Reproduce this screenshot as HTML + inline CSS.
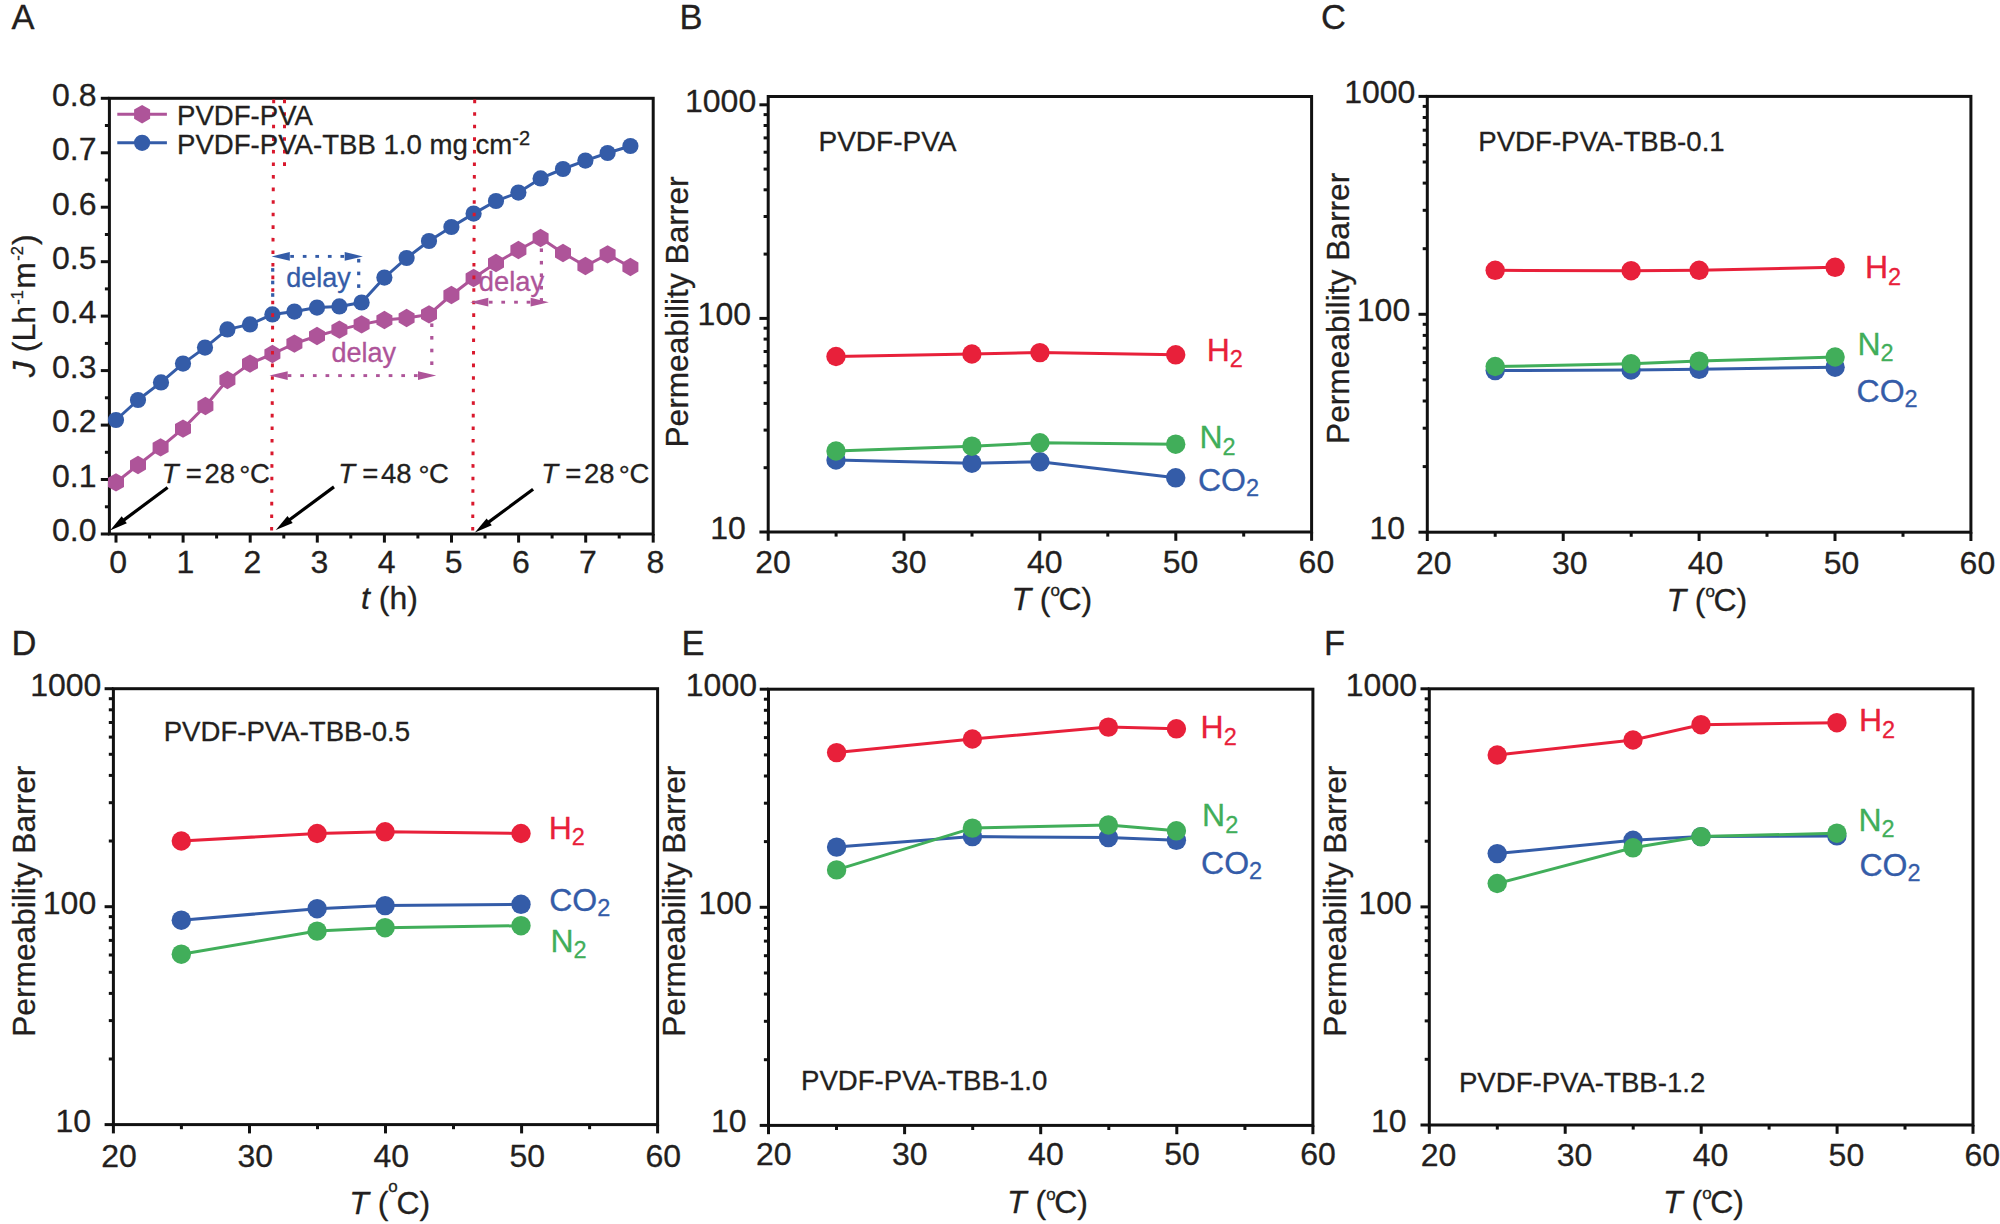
<!DOCTYPE html>
<html lang="en"><head><meta charset="utf-8"><title>Figure</title>
<style>
html,body{margin:0;padding:0;background:#fff;}
svg{display:block;font-family:"Liberation Sans", sans-serif;}
text{stroke-width:.3px;stroke-linejoin:round;}
text[fill="#231f20"]{stroke:#231f20;}
text[fill="#e8203a"]{stroke:#e8203a;}
text[fill="#41ae5a"]{stroke:#41ae5a;}
text[fill="#345ca8"]{stroke:#345ca8;}
text[fill="#ae5499"]{stroke:#ae5499;}
</style></head><body>
<svg width="2000" height="1224" viewBox="0 0 2000 1224">
<rect width="2000" height="1224" fill="#fff"/>
<text x="11.5" y="29.0" font-size="34.5" fill="#231f20" text-anchor="start" >A</text>
<rect x="109.4" y="98.3" width="543.8" height="435.7" fill="none" stroke="#111111" stroke-width="3.0"/>
<line x1="100.8" y1="534.0" x2="109.4" y2="534.0" stroke="#111111" stroke-width="3.0"/>
<text x="96.5" y="541.3" font-size="32" fill="#231f20" text-anchor="end" >0.0</text>
<line x1="104.9" y1="506.8" x2="109.4" y2="506.8" stroke="#111111" stroke-width="3.0"/>
<line x1="100.8" y1="479.5" x2="109.4" y2="479.5" stroke="#111111" stroke-width="3.0"/>
<text x="96.5" y="486.8" font-size="32" fill="#231f20" text-anchor="end" >0.1</text>
<line x1="104.9" y1="452.3" x2="109.4" y2="452.3" stroke="#111111" stroke-width="3.0"/>
<line x1="100.8" y1="425.1" x2="109.4" y2="425.1" stroke="#111111" stroke-width="3.0"/>
<text x="96.5" y="432.4" font-size="32" fill="#231f20" text-anchor="end" >0.2</text>
<line x1="104.9" y1="397.8" x2="109.4" y2="397.8" stroke="#111111" stroke-width="3.0"/>
<line x1="100.8" y1="370.6" x2="109.4" y2="370.6" stroke="#111111" stroke-width="3.0"/>
<text x="96.5" y="377.9" font-size="32" fill="#231f20" text-anchor="end" >0.3</text>
<line x1="104.9" y1="343.4" x2="109.4" y2="343.4" stroke="#111111" stroke-width="3.0"/>
<line x1="100.8" y1="316.1" x2="109.4" y2="316.1" stroke="#111111" stroke-width="3.0"/>
<text x="96.5" y="323.4" font-size="32" fill="#231f20" text-anchor="end" >0.4</text>
<line x1="104.9" y1="288.9" x2="109.4" y2="288.9" stroke="#111111" stroke-width="3.0"/>
<line x1="100.8" y1="261.7" x2="109.4" y2="261.7" stroke="#111111" stroke-width="3.0"/>
<text x="96.5" y="269.0" font-size="32" fill="#231f20" text-anchor="end" >0.5</text>
<line x1="104.9" y1="234.5" x2="109.4" y2="234.5" stroke="#111111" stroke-width="3.0"/>
<line x1="100.8" y1="207.2" x2="109.4" y2="207.2" stroke="#111111" stroke-width="3.0"/>
<text x="96.5" y="214.5" font-size="32" fill="#231f20" text-anchor="end" >0.6</text>
<line x1="104.9" y1="180.0" x2="109.4" y2="180.0" stroke="#111111" stroke-width="3.0"/>
<line x1="100.8" y1="152.8" x2="109.4" y2="152.8" stroke="#111111" stroke-width="3.0"/>
<text x="96.5" y="160.1" font-size="32" fill="#231f20" text-anchor="end" >0.7</text>
<line x1="104.9" y1="125.5" x2="109.4" y2="125.5" stroke="#111111" stroke-width="3.0"/>
<line x1="100.8" y1="98.3" x2="109.4" y2="98.3" stroke="#111111" stroke-width="3.0"/>
<text x="96.5" y="105.6" font-size="32" fill="#231f20" text-anchor="end" >0.8</text>
<line x1="116.0" y1="534.0" x2="116.0" y2="542.6" stroke="#111111" stroke-width="3.0"/>
<text x="118.2" y="572.5" font-size="32" fill="#231f20" text-anchor="middle" >0</text>
<line x1="149.6" y1="534.0" x2="149.6" y2="538.5" stroke="#111111" stroke-width="3.0"/>
<line x1="183.1" y1="534.0" x2="183.1" y2="542.6" stroke="#111111" stroke-width="3.0"/>
<text x="185.3" y="572.5" font-size="32" fill="#231f20" text-anchor="middle" >1</text>
<line x1="216.6" y1="534.0" x2="216.6" y2="538.5" stroke="#111111" stroke-width="3.0"/>
<line x1="250.2" y1="534.0" x2="250.2" y2="542.6" stroke="#111111" stroke-width="3.0"/>
<text x="252.4" y="572.5" font-size="32" fill="#231f20" text-anchor="middle" >2</text>
<line x1="283.8" y1="534.0" x2="283.8" y2="538.5" stroke="#111111" stroke-width="3.0"/>
<line x1="317.3" y1="534.0" x2="317.3" y2="542.6" stroke="#111111" stroke-width="3.0"/>
<text x="319.5" y="572.5" font-size="32" fill="#231f20" text-anchor="middle" >3</text>
<line x1="350.8" y1="534.0" x2="350.8" y2="538.5" stroke="#111111" stroke-width="3.0"/>
<line x1="384.4" y1="534.0" x2="384.4" y2="542.6" stroke="#111111" stroke-width="3.0"/>
<text x="386.6" y="572.5" font-size="32" fill="#231f20" text-anchor="middle" >4</text>
<line x1="417.9" y1="534.0" x2="417.9" y2="538.5" stroke="#111111" stroke-width="3.0"/>
<line x1="451.5" y1="534.0" x2="451.5" y2="542.6" stroke="#111111" stroke-width="3.0"/>
<text x="453.7" y="572.5" font-size="32" fill="#231f20" text-anchor="middle" >5</text>
<line x1="485.0" y1="534.0" x2="485.0" y2="538.5" stroke="#111111" stroke-width="3.0"/>
<line x1="518.6" y1="534.0" x2="518.6" y2="542.6" stroke="#111111" stroke-width="3.0"/>
<text x="520.8" y="572.5" font-size="32" fill="#231f20" text-anchor="middle" >6</text>
<line x1="552.1" y1="534.0" x2="552.1" y2="538.5" stroke="#111111" stroke-width="3.0"/>
<line x1="585.7" y1="534.0" x2="585.7" y2="542.6" stroke="#111111" stroke-width="3.0"/>
<text x="587.9" y="572.5" font-size="32" fill="#231f20" text-anchor="middle" >7</text>
<line x1="619.2" y1="534.0" x2="619.2" y2="538.5" stroke="#111111" stroke-width="3.0"/>
<line x1="653.2" y1="534.0" x2="653.2" y2="542.6" stroke="#111111" stroke-width="3.0"/>
<text x="655.4" y="572.5" font-size="32" fill="#231f20" text-anchor="middle" >8</text>
<rect x="357.10" y="258.90" width="3.2" height="3.6" fill="#345ca8"/>
<rect x="357.10" y="271.60" width="3.2" height="3.6" fill="#345ca8"/>
<rect x="357.10" y="284.30" width="3.2" height="3.6" fill="#345ca8"/>
<rect x="430.20" y="323.40" width="3.2" height="3.6" fill="#ae5499"/>
<rect x="430.20" y="336.00" width="3.2" height="3.6" fill="#ae5499"/>
<rect x="430.20" y="348.70" width="3.2" height="3.6" fill="#ae5499"/>
<rect x="430.20" y="361.40" width="3.2" height="3.6" fill="#ae5499"/>
<rect x="539.80" y="248.40" width="3.2" height="3.6" fill="#ae5499"/>
<rect x="539.80" y="260.90" width="3.2" height="3.6" fill="#ae5499"/>
<rect x="539.80" y="273.40" width="3.2" height="3.6" fill="#ae5499"/>
<rect x="539.80" y="285.90" width="3.2" height="3.6" fill="#ae5499"/>
<rect x="539.80" y="298.10" width="3.2" height="3.6" fill="#ae5499"/>
<polyline points="116.0,482.4 138.0,465.0 160.6,447.4 183.0,428.6 205.4,406.0 227.4,380.0 250.0,363.6 272.4,354.0 294.4,343.6 317.0,336.0 339.4,329.6 361.6,324.4 384.4,320.0 406.6,318.0 429.0,314.4 451.4,295.0 473.6,278.0 496.0,263.0 518.4,250.0 540.6,238.0 563.0,253.0 585.4,266.0 607.6,254.4 630.4,267.0" fill="none" stroke="#ae5499" stroke-width="3.0" stroke-linejoin="round"/>
<polygon points="116.0,473.2 124.0,477.8 124.0,487.0 116.0,491.6 108.0,487.0 108.0,477.8" fill="#ae5499"/>
<polygon points="138.0,455.8 146.0,460.4 146.0,469.6 138.0,474.2 130.0,469.6 130.0,460.4" fill="#ae5499"/>
<polygon points="160.6,438.2 168.6,442.8 168.6,452.0 160.6,456.6 152.6,452.0 152.6,442.8" fill="#ae5499"/>
<polygon points="183.0,419.4 191.0,424.0 191.0,433.2 183.0,437.8 175.0,433.2 175.0,424.0" fill="#ae5499"/>
<polygon points="205.4,396.8 213.4,401.4 213.4,410.6 205.4,415.2 197.4,410.6 197.4,401.4" fill="#ae5499"/>
<polygon points="227.4,370.8 235.4,375.4 235.4,384.6 227.4,389.2 219.4,384.6 219.4,375.4" fill="#ae5499"/>
<polygon points="250.0,354.4 258.0,359.0 258.0,368.2 250.0,372.8 242.0,368.2 242.0,359.0" fill="#ae5499"/>
<polygon points="272.4,344.8 280.4,349.4 280.4,358.6 272.4,363.2 264.4,358.6 264.4,349.4" fill="#ae5499"/>
<polygon points="294.4,334.4 302.4,339.0 302.4,348.2 294.4,352.8 286.4,348.2 286.4,339.0" fill="#ae5499"/>
<polygon points="317.0,326.8 325.0,331.4 325.0,340.6 317.0,345.2 309.0,340.6 309.0,331.4" fill="#ae5499"/>
<polygon points="339.4,320.4 347.4,325.0 347.4,334.2 339.4,338.8 331.4,334.2 331.4,325.0" fill="#ae5499"/>
<polygon points="361.6,315.2 369.6,319.8 369.6,329.0 361.6,333.6 353.6,329.0 353.6,319.8" fill="#ae5499"/>
<polygon points="384.4,310.8 392.4,315.4 392.4,324.6 384.4,329.2 376.4,324.6 376.4,315.4" fill="#ae5499"/>
<polygon points="406.6,308.8 414.6,313.4 414.6,322.6 406.6,327.2 398.6,322.6 398.6,313.4" fill="#ae5499"/>
<polygon points="429.0,305.2 437.0,309.8 437.0,319.0 429.0,323.6 421.0,319.0 421.0,309.8" fill="#ae5499"/>
<polygon points="451.4,285.8 459.4,290.4 459.4,299.6 451.4,304.2 443.4,299.6 443.4,290.4" fill="#ae5499"/>
<polygon points="473.6,268.8 481.6,273.4 481.6,282.6 473.6,287.2 465.6,282.6 465.6,273.4" fill="#ae5499"/>
<polygon points="496.0,253.8 504.0,258.4 504.0,267.6 496.0,272.2 488.0,267.6 488.0,258.4" fill="#ae5499"/>
<polygon points="518.4,240.8 526.4,245.4 526.4,254.6 518.4,259.2 510.4,254.6 510.4,245.4" fill="#ae5499"/>
<polygon points="540.6,228.8 548.6,233.4 548.6,242.6 540.6,247.2 532.6,242.6 532.6,233.4" fill="#ae5499"/>
<polygon points="563.0,243.8 571.0,248.4 571.0,257.6 563.0,262.2 555.0,257.6 555.0,248.4" fill="#ae5499"/>
<polygon points="585.4,256.8 593.4,261.4 593.4,270.6 585.4,275.2 577.4,270.6 577.4,261.4" fill="#ae5499"/>
<polygon points="607.6,245.2 615.6,249.8 615.6,259.0 607.6,263.6 599.6,259.0 599.6,249.8" fill="#ae5499"/>
<polygon points="630.4,257.8 638.4,262.4 638.4,271.6 630.4,276.2 622.4,271.6 622.4,262.4" fill="#ae5499"/>
<polyline points="116.0,420.0 138.0,400.0 161.0,382.4 183.0,363.6 205.0,347.6 227.4,329.4 250.0,324.4 272.4,314.4 294.4,311.6 317.0,307.6 339.4,306.4 361.6,302.5 384.4,277.6 406.6,258.0 429.0,241.0 451.4,227.0 473.6,213.6 496.0,201.0 518.4,192.6 540.6,178.4 563.0,169.0 585.4,160.6 607.6,153.0 630.4,146.0" fill="none" stroke="#345ca8" stroke-width="3.0" stroke-linejoin="round"/>
<circle cx="116.0" cy="420.0" r="8.1" fill="#345ca8"/>
<circle cx="138.0" cy="400.0" r="8.1" fill="#345ca8"/>
<circle cx="161.0" cy="382.4" r="8.1" fill="#345ca8"/>
<circle cx="183.0" cy="363.6" r="8.1" fill="#345ca8"/>
<circle cx="205.0" cy="347.6" r="8.1" fill="#345ca8"/>
<circle cx="227.4" cy="329.4" r="8.1" fill="#345ca8"/>
<circle cx="250.0" cy="324.4" r="8.1" fill="#345ca8"/>
<circle cx="272.4" cy="314.4" r="8.1" fill="#345ca8"/>
<circle cx="294.4" cy="311.6" r="8.1" fill="#345ca8"/>
<circle cx="317.0" cy="307.6" r="8.1" fill="#345ca8"/>
<circle cx="339.4" cy="306.4" r="8.1" fill="#345ca8"/>
<circle cx="361.6" cy="302.5" r="8.1" fill="#345ca8"/>
<circle cx="384.4" cy="277.6" r="8.1" fill="#345ca8"/>
<circle cx="406.6" cy="258.0" r="8.1" fill="#345ca8"/>
<circle cx="429.0" cy="241.0" r="8.1" fill="#345ca8"/>
<circle cx="451.4" cy="227.0" r="8.1" fill="#345ca8"/>
<circle cx="473.6" cy="213.6" r="8.1" fill="#345ca8"/>
<circle cx="496.0" cy="201.0" r="8.1" fill="#345ca8"/>
<circle cx="518.4" cy="192.6" r="8.1" fill="#345ca8"/>
<circle cx="540.6" cy="178.4" r="8.1" fill="#345ca8"/>
<circle cx="563.0" cy="169.0" r="8.1" fill="#345ca8"/>
<circle cx="585.4" cy="160.6" r="8.1" fill="#345ca8"/>
<circle cx="607.6" cy="153.0" r="8.1" fill="#345ca8"/>
<circle cx="630.4" cy="146.0" r="8.1" fill="#345ca8"/>
<line x1="273.7" y1="99.6" x2="271.6" y2="533.0" stroke="#d9182d" stroke-width="3.0" stroke-dasharray="3.6 8.97" stroke-dashoffset="0"/>
<line x1="474.7" y1="99.6" x2="472.7" y2="533.0" stroke="#d9182d" stroke-width="3.0" stroke-dasharray="3.6 8.97" stroke-dashoffset="0"/>
<line x1="284.5" y1="99.6" x2="284.5" y2="171.0" stroke="#d9182d" stroke-width="3.0" stroke-dasharray="3.6 8.95" stroke-dashoffset="0"/>
<rect x="271.10" y="268.10" width="3.2" height="3.6" fill="#345ca8"/>
<rect x="271.10" y="280.70" width="3.2" height="3.6" fill="#345ca8"/>
<rect x="271.10" y="293.20" width="3.2" height="3.6" fill="#345ca8"/>
<polygon points="271.6,256.4 289.8,251.9 289.8,260.8" fill="#345ca8"/>
<polygon points="362.9,256.4 344.7,260.8 344.7,251.9" fill="#345ca8"/>
<rect x="290.25" y="254.95" width="3.7" height="2.9" fill="#345ca8"/>
<rect x="302.80" y="254.95" width="3.7" height="2.9" fill="#345ca8"/>
<rect x="315.35" y="254.95" width="3.7" height="2.9" fill="#345ca8"/>
<rect x="327.90" y="254.95" width="3.7" height="2.9" fill="#345ca8"/>
<rect x="340.45" y="254.95" width="3.7" height="2.9" fill="#345ca8"/>
<text x="286.2" y="286.5" font-size="27" fill="#345ca8" text-anchor="start" >delay</text>
<polygon points="269.5,375.6 287.7,371.2 287.7,380.1" fill="#ae5499"/>
<polygon points="436.2,375.6 418.0,380.1 418.0,371.2" fill="#ae5499"/>
<rect x="287.65" y="374.15" width="3.7" height="2.9" fill="#ae5499"/>
<rect x="300.28" y="374.15" width="3.7" height="2.9" fill="#ae5499"/>
<rect x="312.91" y="374.15" width="3.7" height="2.9" fill="#ae5499"/>
<rect x="325.54" y="374.15" width="3.7" height="2.9" fill="#ae5499"/>
<rect x="338.17" y="374.15" width="3.7" height="2.9" fill="#ae5499"/>
<rect x="350.80" y="374.15" width="3.7" height="2.9" fill="#ae5499"/>
<rect x="363.43" y="374.15" width="3.7" height="2.9" fill="#ae5499"/>
<rect x="376.06" y="374.15" width="3.7" height="2.9" fill="#ae5499"/>
<rect x="388.69" y="374.15" width="3.7" height="2.9" fill="#ae5499"/>
<rect x="401.32" y="374.15" width="3.7" height="2.9" fill="#ae5499"/>
<rect x="413.95" y="374.15" width="3.7" height="2.9" fill="#ae5499"/>
<text x="331.4" y="362.3" font-size="27" fill="#ae5499" text-anchor="start" >delay</text>
<polygon points="470.1,302.2 488.3,297.8 488.3,306.6" fill="#ae5499"/>
<polygon points="548.8,302.2 530.6,306.6 530.6,297.8" fill="#ae5499"/>
<rect x="488.85" y="300.75" width="3.7" height="2.9" fill="#ae5499"/>
<rect x="501.35" y="300.75" width="3.7" height="2.9" fill="#ae5499"/>
<rect x="514.15" y="300.75" width="3.7" height="2.9" fill="#ae5499"/>
<rect x="526.65" y="300.75" width="3.7" height="2.9" fill="#ae5499"/>
<text x="478.8" y="291.4" font-size="27.3" fill="#ae5499" text-anchor="start" >delay</text>
<text y="482.8" font-size="27.5" fill="#231f20"><tspan x="161.8" font-style="italic">T</tspan><tspan x="185.7">=</tspan><tspan x="204.4">28</tspan><tspan x="239.3" dy="2">°</tspan><tspan x="249.9" dy="-2">C</tspan></text>
<line x1="167.6" y1="487.5" x2="118.0" y2="524.4" stroke="#000" stroke-width="3.2"/>
<polygon points="110.0,530.4 121.7,516.3 126.8,523.2" fill="#000"/>
<text y="482.8" font-size="27.5" fill="#231f20"><tspan x="338.3" font-style="italic">T</tspan><tspan x="362.2">=</tspan><tspan x="380.9">48</tspan><tspan x="418.5" dy="2">°</tspan><tspan x="429.09999999999997" dy="-2">C</tspan></text>
<line x1="334.0" y1="486.9" x2="283.8" y2="524.0" stroke="#000" stroke-width="3.2"/>
<polygon points="275.8,530.0 287.5,516.0 292.7,522.9" fill="#000"/>
<text y="482.8" font-size="27.5" fill="#231f20"><tspan x="541.3" font-style="italic">T</tspan><tspan x="565.2">=</tspan><tspan x="583.9">28</tspan><tspan x="618.8" dy="2">°</tspan><tspan x="629.4" dy="-2">C</tspan></text>
<line x1="533.1" y1="489.3" x2="482.9" y2="526.4" stroke="#000" stroke-width="3.2"/>
<polygon points="474.9,532.4 486.6,518.4 491.8,525.3" fill="#000"/>
<line x1="117.3" y1="114.2" x2="166.9" y2="114.2" stroke="#ae5499" stroke-width="3.0"/>
<polygon points="142.1,105.0 150.1,109.6 150.1,118.8 142.1,123.4 134.1,118.8 134.1,109.6" fill="#ae5499"/>
<line x1="117.3" y1="142.8" x2="166.9" y2="142.8" stroke="#345ca8" stroke-width="3.0"/>
<circle cx="142.1" cy="142.8" r="8.1" fill="#345ca8"/>
<text x="177.0" y="125.0" font-size="27.6" fill="#231f20" text-anchor="start" >PVDF-PVA</text>
<text x="177.0" y="153.5" font-size="27.6" fill="#231f20" text-anchor="start" >PVDF-PVA-TBB 1.0 mg cm<tspan dy="-8.5" font-size="20">-2</tspan></text>
<text x="389.5" y="609" font-size="32" fill="#231f20" text-anchor="middle"><tspan font-style="italic">t</tspan> (h)</text>
<text transform="translate(34.6,305.7) rotate(-90)" font-size="32" fill="#231f20" text-anchor="middle"><tspan font-style="italic">J</tspan> (Lh<tspan dy="-11.5" dx="1.2" font-size="16.5">-1</tspan><tspan dy="11.5" dx="1.5">m</tspan><tspan dy="-11.5" dx="1.2" font-size="16.5">-2</tspan><tspan dy="11.5" dx="1.2">)</tspan></text>
<text x="679.5" y="29.0" font-size="34.5" fill="#231f20" text-anchor="start" >B</text>
<polyline points="836.0,460.0 971.9,463.2 1039.9,461.8 1175.7,477.8" fill="none" stroke="#345ca8" stroke-width="3.0" stroke-linejoin="round"/>
<circle cx="836.0" cy="460.0" r="9.7" fill="#345ca8"/>
<circle cx="971.9" cy="463.2" r="9.7" fill="#345ca8"/>
<circle cx="1039.9" cy="461.8" r="9.7" fill="#345ca8"/>
<circle cx="1175.7" cy="477.8" r="9.7" fill="#345ca8"/>
<polyline points="836.0,451.0 971.9,446.2 1039.9,442.8 1175.7,444.2" fill="none" stroke="#41ae5a" stroke-width="3.0" stroke-linejoin="round"/>
<circle cx="836.0" cy="451.0" r="9.7" fill="#41ae5a"/>
<circle cx="971.9" cy="446.2" r="9.7" fill="#41ae5a"/>
<circle cx="1039.9" cy="442.8" r="9.7" fill="#41ae5a"/>
<circle cx="1175.7" cy="444.2" r="9.7" fill="#41ae5a"/>
<polyline points="836.0,356.5 971.9,354.0 1039.9,352.6 1175.7,354.8" fill="none" stroke="#e8203a" stroke-width="3.0" stroke-linejoin="round"/>
<circle cx="836.0" cy="356.5" r="9.7" fill="#e8203a"/>
<circle cx="971.9" cy="354.0" r="9.7" fill="#e8203a"/>
<circle cx="1039.9" cy="352.6" r="9.7" fill="#e8203a"/>
<circle cx="1175.7" cy="354.8" r="9.7" fill="#e8203a"/>
<rect x="768.2" y="96.5" width="543.4" height="435.5" fill="none" stroke="#111111" stroke-width="3.0"/>
<line x1="763.6" y1="254.1" x2="768.2" y2="254.1" stroke="#111111" stroke-width="3.0"/>
<line x1="763.6" y1="216.5" x2="768.2" y2="216.5" stroke="#111111" stroke-width="3.0"/>
<line x1="763.6" y1="189.8" x2="768.2" y2="189.8" stroke="#111111" stroke-width="3.0"/>
<line x1="763.6" y1="169.1" x2="768.2" y2="169.1" stroke="#111111" stroke-width="3.0"/>
<line x1="763.6" y1="152.2" x2="768.2" y2="152.2" stroke="#111111" stroke-width="3.0"/>
<line x1="763.6" y1="137.9" x2="768.2" y2="137.9" stroke="#111111" stroke-width="3.0"/>
<line x1="763.6" y1="125.5" x2="768.2" y2="125.5" stroke="#111111" stroke-width="3.0"/>
<line x1="763.6" y1="114.6" x2="768.2" y2="114.6" stroke="#111111" stroke-width="3.0"/>
<line x1="763.6" y1="467.7" x2="768.2" y2="467.7" stroke="#111111" stroke-width="3.0"/>
<line x1="763.6" y1="430.1" x2="768.2" y2="430.1" stroke="#111111" stroke-width="3.0"/>
<line x1="763.6" y1="403.4" x2="768.2" y2="403.4" stroke="#111111" stroke-width="3.0"/>
<line x1="763.6" y1="382.7" x2="768.2" y2="382.7" stroke="#111111" stroke-width="3.0"/>
<line x1="763.6" y1="365.8" x2="768.2" y2="365.8" stroke="#111111" stroke-width="3.0"/>
<line x1="763.6" y1="351.5" x2="768.2" y2="351.5" stroke="#111111" stroke-width="3.0"/>
<line x1="763.6" y1="339.1" x2="768.2" y2="339.1" stroke="#111111" stroke-width="3.0"/>
<line x1="763.6" y1="328.2" x2="768.2" y2="328.2" stroke="#111111" stroke-width="3.0"/>
<line x1="759.4" y1="104.8" x2="768.2" y2="104.8" stroke="#111111" stroke-width="3.0"/>
<text x="756.2" y="111.8" font-size="32" fill="#231f20" text-anchor="end" >1000</text>
<line x1="759.4" y1="318.4" x2="768.2" y2="318.4" stroke="#111111" stroke-width="3.0"/>
<text x="751.0" y="325.4" font-size="32" fill="#231f20" text-anchor="end" >100</text>
<line x1="759.4" y1="532.0" x2="768.2" y2="532.0" stroke="#111111" stroke-width="3.0"/>
<text x="745.8" y="539.0" font-size="32" fill="#231f20" text-anchor="end" >10</text>
<line x1="768.2" y1="532.0" x2="768.2" y2="540.8" stroke="#111111" stroke-width="3.0"/>
<text x="773.0" y="572.9" font-size="32" fill="#231f20" text-anchor="middle" >20</text>
<line x1="836.1" y1="532.0" x2="836.1" y2="536.6" stroke="#111111" stroke-width="3.0"/>
<line x1="904.0" y1="532.0" x2="904.0" y2="540.8" stroke="#111111" stroke-width="3.0"/>
<text x="908.8" y="572.9" font-size="32" fill="#231f20" text-anchor="middle" >30</text>
<line x1="972.0" y1="532.0" x2="972.0" y2="536.6" stroke="#111111" stroke-width="3.0"/>
<line x1="1039.9" y1="532.0" x2="1039.9" y2="540.8" stroke="#111111" stroke-width="3.0"/>
<text x="1044.7" y="572.9" font-size="32" fill="#231f20" text-anchor="middle" >40</text>
<line x1="1107.8" y1="532.0" x2="1107.8" y2="536.6" stroke="#111111" stroke-width="3.0"/>
<line x1="1175.8" y1="532.0" x2="1175.8" y2="540.8" stroke="#111111" stroke-width="3.0"/>
<text x="1180.5" y="572.9" font-size="32" fill="#231f20" text-anchor="middle" >50</text>
<line x1="1243.7" y1="532.0" x2="1243.7" y2="536.6" stroke="#111111" stroke-width="3.0"/>
<line x1="1311.6" y1="532.0" x2="1311.6" y2="540.8" stroke="#111111" stroke-width="3.0"/>
<text x="1316.4" y="572.9" font-size="32" fill="#231f20" text-anchor="middle" >60</text>
<text x="1206.7" y="360.7" font-size="32" fill="#e8203a" text-anchor="start" >H<tspan dy="6.6" font-size="23.5">2</tspan></text>
<text x="1199.4" y="448.4" font-size="32" fill="#41ae5a" text-anchor="start" >N<tspan dy="6.3" font-size="23.5">2</tspan></text>
<text x="1197.9" y="491.4" font-size="32" fill="#345ca8" text-anchor="start" >CO<tspan dy="4.6" font-size="23.5">2</tspan></text>
<text x="818.5" y="151.3" font-size="28" fill="#231f20" text-anchor="start" >PVDF-PVA</text>
<text x="1051.8" y="610" font-size="32" fill="#231f20" text-anchor="middle"><tspan font-style="italic">T</tspan> (<tspan font-size="17" dy="-13.6" dx="0">o</tspan><tspan dy="13.6" dx="-1.5">C)</tspan></text>
<text transform="translate(687.5,312) rotate(-90)" font-size="31.7" fill="#231f20" text-anchor="middle">Permeability Barrer</text>
<text x="1321.0" y="29.0" font-size="34.5" fill="#231f20" text-anchor="start" >C</text>
<polyline points="1495.2,370.6 1631.1,370.0 1699.1,369.3 1835.1,367.2" fill="none" stroke="#345ca8" stroke-width="3.0" stroke-linejoin="round"/>
<circle cx="1495.2" cy="370.6" r="9.7" fill="#345ca8"/>
<circle cx="1631.1" cy="370.0" r="9.7" fill="#345ca8"/>
<circle cx="1699.1" cy="369.3" r="9.7" fill="#345ca8"/>
<circle cx="1835.1" cy="367.2" r="9.7" fill="#345ca8"/>
<polyline points="1495.2,366.5 1631.1,363.8 1699.1,361.1 1835.1,357.0" fill="none" stroke="#41ae5a" stroke-width="3.0" stroke-linejoin="round"/>
<circle cx="1495.2" cy="366.5" r="9.7" fill="#41ae5a"/>
<circle cx="1631.1" cy="363.8" r="9.7" fill="#41ae5a"/>
<circle cx="1699.1" cy="361.1" r="9.7" fill="#41ae5a"/>
<circle cx="1835.1" cy="357.0" r="9.7" fill="#41ae5a"/>
<polyline points="1495.2,270.3 1631.1,270.7 1699.1,270.3 1835.1,267.3" fill="none" stroke="#e8203a" stroke-width="3.0" stroke-linejoin="round"/>
<circle cx="1495.2" cy="270.3" r="9.7" fill="#e8203a"/>
<circle cx="1631.1" cy="270.7" r="9.7" fill="#e8203a"/>
<circle cx="1699.1" cy="270.3" r="9.7" fill="#e8203a"/>
<circle cx="1835.1" cy="267.3" r="9.7" fill="#e8203a"/>
<rect x="1427.3" y="96.4" width="543.6" height="435.8" fill="none" stroke="#111111" stroke-width="3.0"/>
<line x1="1422.7" y1="248.7" x2="1427.3" y2="248.7" stroke="#111111" stroke-width="3.0"/>
<line x1="1422.7" y1="210.3" x2="1427.3" y2="210.3" stroke="#111111" stroke-width="3.0"/>
<line x1="1422.7" y1="183.1" x2="1427.3" y2="183.1" stroke="#111111" stroke-width="3.0"/>
<line x1="1422.7" y1="162.0" x2="1427.3" y2="162.0" stroke="#111111" stroke-width="3.0"/>
<line x1="1422.7" y1="144.7" x2="1427.3" y2="144.7" stroke="#111111" stroke-width="3.0"/>
<line x1="1422.7" y1="130.2" x2="1427.3" y2="130.2" stroke="#111111" stroke-width="3.0"/>
<line x1="1422.7" y1="117.5" x2="1427.3" y2="117.5" stroke="#111111" stroke-width="3.0"/>
<line x1="1422.7" y1="106.4" x2="1427.3" y2="106.4" stroke="#111111" stroke-width="3.0"/>
<line x1="1422.7" y1="466.6" x2="1427.3" y2="466.6" stroke="#111111" stroke-width="3.0"/>
<line x1="1422.7" y1="428.2" x2="1427.3" y2="428.2" stroke="#111111" stroke-width="3.0"/>
<line x1="1422.7" y1="401.0" x2="1427.3" y2="401.0" stroke="#111111" stroke-width="3.0"/>
<line x1="1422.7" y1="379.9" x2="1427.3" y2="379.9" stroke="#111111" stroke-width="3.0"/>
<line x1="1422.7" y1="362.6" x2="1427.3" y2="362.6" stroke="#111111" stroke-width="3.0"/>
<line x1="1422.7" y1="348.1" x2="1427.3" y2="348.1" stroke="#111111" stroke-width="3.0"/>
<line x1="1422.7" y1="335.4" x2="1427.3" y2="335.4" stroke="#111111" stroke-width="3.0"/>
<line x1="1422.7" y1="324.3" x2="1427.3" y2="324.3" stroke="#111111" stroke-width="3.0"/>
<line x1="1418.5" y1="96.4" x2="1427.3" y2="96.4" stroke="#111111" stroke-width="3.0"/>
<text x="1415.4" y="103.4" font-size="32" fill="#231f20" text-anchor="end" >1000</text>
<line x1="1418.5" y1="314.3" x2="1427.3" y2="314.3" stroke="#111111" stroke-width="3.0"/>
<text x="1410.2" y="321.3" font-size="32" fill="#231f20" text-anchor="end" >100</text>
<line x1="1418.5" y1="532.2" x2="1427.3" y2="532.2" stroke="#111111" stroke-width="3.0"/>
<text x="1405.0" y="539.2" font-size="32" fill="#231f20" text-anchor="end" >10</text>
<line x1="1427.3" y1="532.2" x2="1427.3" y2="541.0" stroke="#111111" stroke-width="3.0"/>
<text x="1433.8" y="573.9" font-size="32" fill="#231f20" text-anchor="middle" >20</text>
<line x1="1495.2" y1="532.2" x2="1495.2" y2="536.8" stroke="#111111" stroke-width="3.0"/>
<line x1="1563.2" y1="532.2" x2="1563.2" y2="541.0" stroke="#111111" stroke-width="3.0"/>
<text x="1569.7" y="573.9" font-size="32" fill="#231f20" text-anchor="middle" >30</text>
<line x1="1631.2" y1="532.2" x2="1631.2" y2="536.8" stroke="#111111" stroke-width="3.0"/>
<line x1="1699.1" y1="532.2" x2="1699.1" y2="541.0" stroke="#111111" stroke-width="3.0"/>
<text x="1705.6" y="573.9" font-size="32" fill="#231f20" text-anchor="middle" >40</text>
<line x1="1767.0" y1="532.2" x2="1767.0" y2="536.8" stroke="#111111" stroke-width="3.0"/>
<line x1="1835.0" y1="532.2" x2="1835.0" y2="541.0" stroke="#111111" stroke-width="3.0"/>
<text x="1841.5" y="573.9" font-size="32" fill="#231f20" text-anchor="middle" >50</text>
<line x1="1903.0" y1="532.2" x2="1903.0" y2="536.8" stroke="#111111" stroke-width="3.0"/>
<line x1="1970.9" y1="532.2" x2="1970.9" y2="541.0" stroke="#111111" stroke-width="3.0"/>
<text x="1977.4" y="573.9" font-size="32" fill="#231f20" text-anchor="middle" >60</text>
<text x="1864.9" y="277.9" font-size="32" fill="#e8203a" text-anchor="start" >H<tspan dy="6.6" font-size="23.5">2</tspan></text>
<text x="1857.5" y="354.7" font-size="32" fill="#41ae5a" text-anchor="start" >N<tspan dy="6.3" font-size="23.5">2</tspan></text>
<text x="1856.6" y="402.2" font-size="32" fill="#345ca8" text-anchor="start" >CO<tspan dy="4.6" font-size="23.5">2</tspan></text>
<text x="1478.3" y="150.6" font-size="27.6" fill="#231f20" text-anchor="start" >PVDF-PVA-TBB-0.1</text>
<text x="1706.8" y="611" font-size="32" fill="#231f20" text-anchor="middle"><tspan font-style="italic">T</tspan> (<tspan font-size="17" dy="-13.6" dx="0">o</tspan><tspan dy="13.6" dx="-1.5">C)</tspan></text>
<text transform="translate(1349.0,308.4) rotate(-90)" font-size="31.7" fill="#231f20" text-anchor="middle">Permeability Barrer</text>
<text x="11.6" y="655.2" font-size="34.5" fill="#231f20" text-anchor="start" >D</text>
<polyline points="181.3,954.2 317.1,931.1 385.1,927.7 521.0,925.7" fill="none" stroke="#41ae5a" stroke-width="3.0" stroke-linejoin="round"/>
<circle cx="181.3" cy="954.2" r="9.7" fill="#41ae5a"/>
<circle cx="317.1" cy="931.1" r="9.7" fill="#41ae5a"/>
<circle cx="385.1" cy="927.7" r="9.7" fill="#41ae5a"/>
<circle cx="521.0" cy="925.7" r="9.7" fill="#41ae5a"/>
<polyline points="181.3,920.2 317.1,908.7 385.1,905.6 521.0,904.3" fill="none" stroke="#345ca8" stroke-width="3.0" stroke-linejoin="round"/>
<circle cx="181.3" cy="920.2" r="9.7" fill="#345ca8"/>
<circle cx="317.1" cy="908.7" r="9.7" fill="#345ca8"/>
<circle cx="385.1" cy="905.6" r="9.7" fill="#345ca8"/>
<circle cx="521.0" cy="904.3" r="9.7" fill="#345ca8"/>
<polyline points="181.3,841.0 317.1,833.5 385.1,831.8 521.0,833.5" fill="none" stroke="#e8203a" stroke-width="3.0" stroke-linejoin="round"/>
<circle cx="181.3" cy="841.0" r="9.7" fill="#e8203a"/>
<circle cx="317.1" cy="833.5" r="9.7" fill="#e8203a"/>
<circle cx="385.1" cy="831.8" r="9.7" fill="#e8203a"/>
<circle cx="521.0" cy="833.5" r="9.7" fill="#e8203a"/>
<rect x="113.4" y="688.7" width="544.2" height="435.9" fill="none" stroke="#111111" stroke-width="3.0"/>
<line x1="108.8" y1="841.0" x2="113.4" y2="841.0" stroke="#111111" stroke-width="3.0"/>
<line x1="108.8" y1="802.7" x2="113.4" y2="802.7" stroke="#111111" stroke-width="3.0"/>
<line x1="108.8" y1="775.4" x2="113.4" y2="775.4" stroke="#111111" stroke-width="3.0"/>
<line x1="108.8" y1="754.3" x2="113.4" y2="754.3" stroke="#111111" stroke-width="3.0"/>
<line x1="108.8" y1="737.1" x2="113.4" y2="737.1" stroke="#111111" stroke-width="3.0"/>
<line x1="108.8" y1="722.5" x2="113.4" y2="722.5" stroke="#111111" stroke-width="3.0"/>
<line x1="108.8" y1="709.8" x2="113.4" y2="709.8" stroke="#111111" stroke-width="3.0"/>
<line x1="108.8" y1="698.7" x2="113.4" y2="698.7" stroke="#111111" stroke-width="3.0"/>
<line x1="108.8" y1="1059.0" x2="113.4" y2="1059.0" stroke="#111111" stroke-width="3.0"/>
<line x1="108.8" y1="1020.6" x2="113.4" y2="1020.6" stroke="#111111" stroke-width="3.0"/>
<line x1="108.8" y1="993.4" x2="113.4" y2="993.4" stroke="#111111" stroke-width="3.0"/>
<line x1="108.8" y1="972.3" x2="113.4" y2="972.3" stroke="#111111" stroke-width="3.0"/>
<line x1="108.8" y1="955.0" x2="113.4" y2="955.0" stroke="#111111" stroke-width="3.0"/>
<line x1="108.8" y1="940.4" x2="113.4" y2="940.4" stroke="#111111" stroke-width="3.0"/>
<line x1="108.8" y1="927.8" x2="113.4" y2="927.8" stroke="#111111" stroke-width="3.0"/>
<line x1="108.8" y1="916.6" x2="113.4" y2="916.6" stroke="#111111" stroke-width="3.0"/>
<line x1="104.6" y1="688.7" x2="113.4" y2="688.7" stroke="#111111" stroke-width="3.0"/>
<text x="101.4" y="695.7" font-size="32" fill="#231f20" text-anchor="end" >1000</text>
<line x1="104.6" y1="906.7" x2="113.4" y2="906.7" stroke="#111111" stroke-width="3.0"/>
<text x="96.2" y="913.7" font-size="32" fill="#231f20" text-anchor="end" >100</text>
<line x1="104.6" y1="1124.6" x2="113.4" y2="1124.6" stroke="#111111" stroke-width="3.0"/>
<text x="91.0" y="1131.6" font-size="32" fill="#231f20" text-anchor="end" >10</text>
<line x1="113.4" y1="1124.6" x2="113.4" y2="1133.4" stroke="#111111" stroke-width="3.0"/>
<text x="119.1" y="1166.9" font-size="32" fill="#231f20" text-anchor="middle" >20</text>
<line x1="181.4" y1="1124.6" x2="181.4" y2="1129.2" stroke="#111111" stroke-width="3.0"/>
<line x1="249.5" y1="1124.6" x2="249.5" y2="1133.4" stroke="#111111" stroke-width="3.0"/>
<text x="255.2" y="1166.9" font-size="32" fill="#231f20" text-anchor="middle" >30</text>
<line x1="317.5" y1="1124.6" x2="317.5" y2="1129.2" stroke="#111111" stroke-width="3.0"/>
<line x1="385.5" y1="1124.6" x2="385.5" y2="1133.4" stroke="#111111" stroke-width="3.0"/>
<text x="391.2" y="1166.9" font-size="32" fill="#231f20" text-anchor="middle" >40</text>
<line x1="453.5" y1="1124.6" x2="453.5" y2="1129.2" stroke="#111111" stroke-width="3.0"/>
<line x1="521.6" y1="1124.6" x2="521.6" y2="1133.4" stroke="#111111" stroke-width="3.0"/>
<text x="527.3" y="1166.9" font-size="32" fill="#231f20" text-anchor="middle" >50</text>
<line x1="589.6" y1="1124.6" x2="589.6" y2="1129.2" stroke="#111111" stroke-width="3.0"/>
<line x1="657.6" y1="1124.6" x2="657.6" y2="1133.4" stroke="#111111" stroke-width="3.0"/>
<text x="663.3" y="1166.9" font-size="32" fill="#231f20" text-anchor="middle" >60</text>
<text x="548.7" y="838.7" font-size="32" fill="#e8203a" text-anchor="start" >H<tspan dy="6.6" font-size="23.5">2</tspan></text>
<text x="549.2" y="911.3" font-size="32" fill="#345ca8" text-anchor="start" >CO<tspan dy="4.6" font-size="23.5">2</tspan></text>
<text x="550.4" y="951.5" font-size="32" fill="#41ae5a" text-anchor="start" >N<tspan dy="6.3" font-size="23.5">2</tspan></text>
<text x="163.7" y="740.7" font-size="27.6" fill="#231f20" text-anchor="start" >PVDF-PVA-TBB-0.5</text>
<text x="389.8" y="1213.6" font-size="32" fill="#231f20" text-anchor="middle"><tspan font-style="italic">T</tspan> (<tspan font-size="17" dy="-22" dx="-0.2">o</tspan><tspan dy="22" dx="-1.2">C)</tspan></text>
<text transform="translate(34.8,901.2) rotate(-90)" font-size="31.7" fill="#231f20" text-anchor="middle">Permeability Barrer</text>
<text x="681.6" y="655.2" font-size="34.5" fill="#231f20" text-anchor="start" >E</text>
<polyline points="836.6,847.1 972.4,836.6 1108.4,837.6 1176.4,840.3" fill="none" stroke="#345ca8" stroke-width="3.0" stroke-linejoin="round"/>
<circle cx="836.6" cy="847.1" r="9.7" fill="#345ca8"/>
<circle cx="972.4" cy="836.6" r="9.7" fill="#345ca8"/>
<circle cx="1108.4" cy="837.6" r="9.7" fill="#345ca8"/>
<circle cx="1176.4" cy="840.3" r="9.7" fill="#345ca8"/>
<polyline points="836.6,869.9 972.4,828.1 1108.4,825.0 1176.4,830.8" fill="none" stroke="#41ae5a" stroke-width="3.0" stroke-linejoin="round"/>
<circle cx="836.6" cy="869.9" r="9.7" fill="#41ae5a"/>
<circle cx="972.4" cy="828.1" r="9.7" fill="#41ae5a"/>
<circle cx="1108.4" cy="825.0" r="9.7" fill="#41ae5a"/>
<circle cx="1176.4" cy="830.8" r="9.7" fill="#41ae5a"/>
<polyline points="836.6,752.6 972.4,739.0 1108.4,727.1 1176.4,728.8" fill="none" stroke="#e8203a" stroke-width="3.0" stroke-linejoin="round"/>
<circle cx="836.6" cy="752.6" r="9.7" fill="#e8203a"/>
<circle cx="972.4" cy="739.0" r="9.7" fill="#e8203a"/>
<circle cx="1108.4" cy="727.1" r="9.7" fill="#e8203a"/>
<circle cx="1176.4" cy="728.8" r="9.7" fill="#e8203a"/>
<rect x="768.5" y="689.2" width="544.4" height="436.2" fill="none" stroke="#111111" stroke-width="3.0"/>
<line x1="763.9" y1="841.6" x2="768.5" y2="841.6" stroke="#111111" stroke-width="3.0"/>
<line x1="763.9" y1="803.2" x2="768.5" y2="803.2" stroke="#111111" stroke-width="3.0"/>
<line x1="763.9" y1="776.0" x2="768.5" y2="776.0" stroke="#111111" stroke-width="3.0"/>
<line x1="763.9" y1="754.9" x2="768.5" y2="754.9" stroke="#111111" stroke-width="3.0"/>
<line x1="763.9" y1="737.6" x2="768.5" y2="737.6" stroke="#111111" stroke-width="3.0"/>
<line x1="763.9" y1="723.0" x2="768.5" y2="723.0" stroke="#111111" stroke-width="3.0"/>
<line x1="763.9" y1="710.3" x2="768.5" y2="710.3" stroke="#111111" stroke-width="3.0"/>
<line x1="763.9" y1="699.2" x2="768.5" y2="699.2" stroke="#111111" stroke-width="3.0"/>
<line x1="763.9" y1="1059.7" x2="768.5" y2="1059.7" stroke="#111111" stroke-width="3.0"/>
<line x1="763.9" y1="1021.3" x2="768.5" y2="1021.3" stroke="#111111" stroke-width="3.0"/>
<line x1="763.9" y1="994.1" x2="768.5" y2="994.1" stroke="#111111" stroke-width="3.0"/>
<line x1="763.9" y1="973.0" x2="768.5" y2="973.0" stroke="#111111" stroke-width="3.0"/>
<line x1="763.9" y1="955.7" x2="768.5" y2="955.7" stroke="#111111" stroke-width="3.0"/>
<line x1="763.9" y1="941.1" x2="768.5" y2="941.1" stroke="#111111" stroke-width="3.0"/>
<line x1="763.9" y1="928.4" x2="768.5" y2="928.4" stroke="#111111" stroke-width="3.0"/>
<line x1="763.9" y1="917.3" x2="768.5" y2="917.3" stroke="#111111" stroke-width="3.0"/>
<line x1="759.7" y1="689.2" x2="768.5" y2="689.2" stroke="#111111" stroke-width="3.0"/>
<text x="757.0" y="696.2" font-size="32" fill="#231f20" text-anchor="end" >1000</text>
<line x1="759.7" y1="907.3" x2="768.5" y2="907.3" stroke="#111111" stroke-width="3.0"/>
<text x="751.8" y="914.3" font-size="32" fill="#231f20" text-anchor="end" >100</text>
<line x1="759.7" y1="1125.4" x2="768.5" y2="1125.4" stroke="#111111" stroke-width="3.0"/>
<text x="746.6" y="1132.4" font-size="32" fill="#231f20" text-anchor="end" >10</text>
<line x1="768.5" y1="1125.4" x2="768.5" y2="1134.2" stroke="#111111" stroke-width="3.0"/>
<text x="773.7" y="1164.7" font-size="32" fill="#231f20" text-anchor="middle" >20</text>
<line x1="836.5" y1="1125.4" x2="836.5" y2="1130.0" stroke="#111111" stroke-width="3.0"/>
<line x1="904.6" y1="1125.4" x2="904.6" y2="1134.2" stroke="#111111" stroke-width="3.0"/>
<text x="909.8" y="1164.7" font-size="32" fill="#231f20" text-anchor="middle" >30</text>
<line x1="972.7" y1="1125.4" x2="972.7" y2="1130.0" stroke="#111111" stroke-width="3.0"/>
<line x1="1040.7" y1="1125.4" x2="1040.7" y2="1134.2" stroke="#111111" stroke-width="3.0"/>
<text x="1045.9" y="1164.7" font-size="32" fill="#231f20" text-anchor="middle" >40</text>
<line x1="1108.8" y1="1125.4" x2="1108.8" y2="1130.0" stroke="#111111" stroke-width="3.0"/>
<line x1="1176.8" y1="1125.4" x2="1176.8" y2="1134.2" stroke="#111111" stroke-width="3.0"/>
<text x="1182.0" y="1164.7" font-size="32" fill="#231f20" text-anchor="middle" >50</text>
<line x1="1244.9" y1="1125.4" x2="1244.9" y2="1130.0" stroke="#111111" stroke-width="3.0"/>
<line x1="1312.9" y1="1125.4" x2="1312.9" y2="1134.2" stroke="#111111" stroke-width="3.0"/>
<text x="1318.1" y="1164.7" font-size="32" fill="#231f20" text-anchor="middle" >60</text>
<text x="1200.6" y="738.2" font-size="32" fill="#e8203a" text-anchor="start" >H<tspan dy="6.6" font-size="23.5">2</tspan></text>
<text x="1202.1" y="826.2" font-size="32" fill="#41ae5a" text-anchor="start" >N<tspan dy="6.3" font-size="23.5">2</tspan></text>
<text x="1201.1" y="874.3" font-size="32" fill="#345ca8" text-anchor="start" >CO<tspan dy="4.6" font-size="23.5">2</tspan></text>
<text x="801.0" y="1089.8" font-size="27.6" fill="#231f20" text-anchor="start" >PVDF-PVA-TBB-1.0</text>
<text x="1047.5" y="1213.4" font-size="32" fill="#231f20" text-anchor="middle"><tspan font-style="italic">T</tspan> (<tspan font-size="17" dy="-13.6" dx="0">o</tspan><tspan dy="13.6" dx="-1.5">C)</tspan></text>
<text transform="translate(685.3,901.2) rotate(-90)" font-size="31.7" fill="#231f20" text-anchor="middle">Permeability Barrer</text>
<text x="1324.0" y="655.4" font-size="34.5" fill="#231f20" text-anchor="start" >F</text>
<polyline points="1497.2,853.6 1633.0,840.3 1701.0,836.6 1836.9,835.9" fill="none" stroke="#345ca8" stroke-width="3.0" stroke-linejoin="round"/>
<circle cx="1497.2" cy="853.6" r="9.7" fill="#345ca8"/>
<circle cx="1633.0" cy="840.3" r="9.7" fill="#345ca8"/>
<circle cx="1701.0" cy="836.6" r="9.7" fill="#345ca8"/>
<circle cx="1836.9" cy="835.9" r="9.7" fill="#345ca8"/>
<polyline points="1497.2,883.5 1633.0,847.8 1701.0,836.6 1836.9,833.2" fill="none" stroke="#41ae5a" stroke-width="3.0" stroke-linejoin="round"/>
<circle cx="1497.2" cy="883.5" r="9.7" fill="#41ae5a"/>
<circle cx="1633.0" cy="847.8" r="9.7" fill="#41ae5a"/>
<circle cx="1701.0" cy="836.6" r="9.7" fill="#41ae5a"/>
<circle cx="1836.9" cy="833.2" r="9.7" fill="#41ae5a"/>
<polyline points="1497.2,755.0 1633.0,740.0 1701.0,724.7 1836.9,722.7" fill="none" stroke="#e8203a" stroke-width="3.0" stroke-linejoin="round"/>
<circle cx="1497.2" cy="755.0" r="9.7" fill="#e8203a"/>
<circle cx="1633.0" cy="740.0" r="9.7" fill="#e8203a"/>
<circle cx="1701.0" cy="724.7" r="9.7" fill="#e8203a"/>
<circle cx="1836.9" cy="722.7" r="9.7" fill="#e8203a"/>
<rect x="1429.3" y="688.8" width="543.7" height="436.2" fill="none" stroke="#111111" stroke-width="3.0"/>
<line x1="1424.7" y1="841.2" x2="1429.3" y2="841.2" stroke="#111111" stroke-width="3.0"/>
<line x1="1424.7" y1="802.8" x2="1429.3" y2="802.8" stroke="#111111" stroke-width="3.0"/>
<line x1="1424.7" y1="775.6" x2="1429.3" y2="775.6" stroke="#111111" stroke-width="3.0"/>
<line x1="1424.7" y1="754.5" x2="1429.3" y2="754.5" stroke="#111111" stroke-width="3.0"/>
<line x1="1424.7" y1="737.2" x2="1429.3" y2="737.2" stroke="#111111" stroke-width="3.0"/>
<line x1="1424.7" y1="722.6" x2="1429.3" y2="722.6" stroke="#111111" stroke-width="3.0"/>
<line x1="1424.7" y1="709.9" x2="1429.3" y2="709.9" stroke="#111111" stroke-width="3.0"/>
<line x1="1424.7" y1="698.8" x2="1429.3" y2="698.8" stroke="#111111" stroke-width="3.0"/>
<line x1="1424.7" y1="1059.3" x2="1429.3" y2="1059.3" stroke="#111111" stroke-width="3.0"/>
<line x1="1424.7" y1="1020.9" x2="1429.3" y2="1020.9" stroke="#111111" stroke-width="3.0"/>
<line x1="1424.7" y1="993.7" x2="1429.3" y2="993.7" stroke="#111111" stroke-width="3.0"/>
<line x1="1424.7" y1="972.6" x2="1429.3" y2="972.6" stroke="#111111" stroke-width="3.0"/>
<line x1="1424.7" y1="955.3" x2="1429.3" y2="955.3" stroke="#111111" stroke-width="3.0"/>
<line x1="1424.7" y1="940.7" x2="1429.3" y2="940.7" stroke="#111111" stroke-width="3.0"/>
<line x1="1424.7" y1="928.0" x2="1429.3" y2="928.0" stroke="#111111" stroke-width="3.0"/>
<line x1="1424.7" y1="916.9" x2="1429.3" y2="916.9" stroke="#111111" stroke-width="3.0"/>
<line x1="1420.5" y1="688.8" x2="1429.3" y2="688.8" stroke="#111111" stroke-width="3.0"/>
<text x="1417.0" y="695.8" font-size="32" fill="#231f20" text-anchor="end" >1000</text>
<line x1="1420.5" y1="906.9" x2="1429.3" y2="906.9" stroke="#111111" stroke-width="3.0"/>
<text x="1411.8" y="913.9" font-size="32" fill="#231f20" text-anchor="end" >100</text>
<line x1="1420.5" y1="1125.0" x2="1429.3" y2="1125.0" stroke="#111111" stroke-width="3.0"/>
<text x="1406.6" y="1132.0" font-size="32" fill="#231f20" text-anchor="end" >10</text>
<line x1="1429.3" y1="1125.0" x2="1429.3" y2="1133.8" stroke="#111111" stroke-width="3.0"/>
<text x="1438.6" y="1166.4" font-size="32" fill="#231f20" text-anchor="middle" >20</text>
<line x1="1497.3" y1="1125.0" x2="1497.3" y2="1129.6" stroke="#111111" stroke-width="3.0"/>
<line x1="1565.2" y1="1125.0" x2="1565.2" y2="1133.8" stroke="#111111" stroke-width="3.0"/>
<text x="1574.5" y="1166.4" font-size="32" fill="#231f20" text-anchor="middle" >30</text>
<line x1="1633.2" y1="1125.0" x2="1633.2" y2="1129.6" stroke="#111111" stroke-width="3.0"/>
<line x1="1701.2" y1="1125.0" x2="1701.2" y2="1133.8" stroke="#111111" stroke-width="3.0"/>
<text x="1710.5" y="1166.4" font-size="32" fill="#231f20" text-anchor="middle" >40</text>
<line x1="1769.1" y1="1125.0" x2="1769.1" y2="1129.6" stroke="#111111" stroke-width="3.0"/>
<line x1="1837.1" y1="1125.0" x2="1837.1" y2="1133.8" stroke="#111111" stroke-width="3.0"/>
<text x="1846.4" y="1166.4" font-size="32" fill="#231f20" text-anchor="middle" >50</text>
<line x1="1905.0" y1="1125.0" x2="1905.0" y2="1129.6" stroke="#111111" stroke-width="3.0"/>
<line x1="1973.0" y1="1125.0" x2="1973.0" y2="1133.8" stroke="#111111" stroke-width="3.0"/>
<text x="1982.3" y="1166.4" font-size="32" fill="#231f20" text-anchor="middle" >60</text>
<text x="1859.0" y="731.2" font-size="32" fill="#e8203a" text-anchor="start" >H<tspan dy="6.6" font-size="23.5">2</tspan></text>
<text x="1858.4" y="830.6" font-size="32" fill="#41ae5a" text-anchor="start" >N<tspan dy="6.3" font-size="23.5">2</tspan></text>
<text x="1859.4" y="876.2" font-size="32" fill="#345ca8" text-anchor="start" >CO<tspan dy="4.6" font-size="23.5">2</tspan></text>
<text x="1458.9" y="1091.8" font-size="27.6" fill="#231f20" text-anchor="start" >PVDF-PVA-TBB-1.2</text>
<text x="1703.5" y="1212.7" font-size="32" fill="#231f20" text-anchor="middle"><tspan font-style="italic">T</tspan> (<tspan font-size="17" dy="-13.6" dx="0">o</tspan><tspan dy="13.6" dx="-1.5">C)</tspan></text>
<text transform="translate(1346.1,901.2) rotate(-90)" font-size="31.7" fill="#231f20" text-anchor="middle">Permeability Barrer</text>
</svg>
</body></html>
